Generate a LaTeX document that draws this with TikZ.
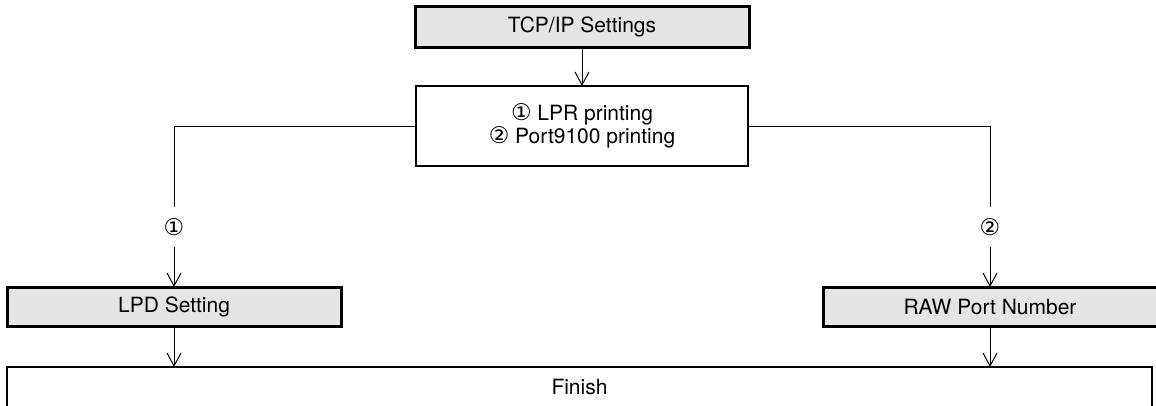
\documentclass[tikz,border=0pt]{standalone}
\usepackage{fontspec}
\setmainfont{TeX Gyre Heros}
\newfontfamily\symf{DejaVu Sans}
\usetikzlibrary{arrows.meta}
\begin{document}
\begin{tikzpicture}[x=1pt,y=-1pt,
  grayb/.style={draw, fill=black!10, line width=3pt, minimum width=334pt, inner sep=0pt, outer sep=0pt, font=\fontsize{21}{23}\selectfont},
  whiteb/.style={draw, fill=white, line width=2pt, inner sep=0pt, outer sep=0pt, align=center, font=\fontsize{21}{23}\selectfont},
  conn/.style={line width=1pt},
  arr/.style={conn, -{Straight Barb[length=13pt,width=14pt]}},
  lbl/.style={inner sep=0pt, minimum height=40pt, font=\symf\fontsize{23}{23}\selectfont}]
\useasboundingbox (0,0) rectangle (1156,405);
\node[grayb, minimum height=41pt] (tcp) at (582,26.5) {TCP/IP Settings};
\node[whiteb, minimum width=332pt, minimum height=80pt] (lpr) at (582,126) {{\symf\fontsize{23}{23}\selectfont ①} LPR printing\\{\symf\fontsize{23}{23}\selectfont ②} Port9100 printing};
\node[grayb, minimum height=39pt] (lpd) at (174,306.5) {LPD Setting};
\node[grayb, minimum height=39pt] (raw) at (990,306.5) {RAW Port Number};
\node[whiteb, minimum width=1145pt, minimum height=40pt] (fin) at (579.5,387) {Finish};
\node[lbl] (l1) at (174,227) {①};
\node[lbl] (l2) at (990,227) {②};
\draw[arr] (tcp) -- (lpr);
\draw[conn] (lpr.west) -| (l1.north);
\draw[arr] (l1.south) -- (lpd.north);
\draw[conn] (lpr.east) -| (l2.north);
\draw[arr] (l2.south) -- (raw.north);
\draw[arr] (lpd.south) -- (lpd.south |- fin.north);
\draw[arr] (raw.south) -- (raw.south |- fin.north);
\end{tikzpicture}
\end{document}
